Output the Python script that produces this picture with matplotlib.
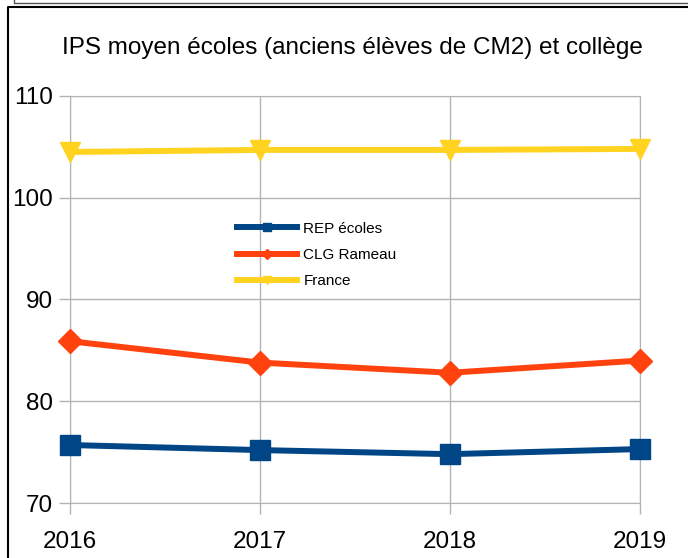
import matplotlib.pyplot as plt
from matplotlib.lines import Line2D

plt.rcParams["font.family"] = ["Liberation Sans", "DejaVu Sans"]

years = ["2016", "2017", "2018", "2019"]
rep_ecoles = [75.7, 75.2, 74.8, 75.3]
clg_rameau = [85.9, 83.8, 82.8, 84.0]
france = [104.5, 104.7, 104.7, 104.8]
y_ticks = [70, 80, 90, 100, 110]

W, H = 688, 558
fig = plt.figure(figsize=(W / 100, H / 100), dpi=100)
ax = fig.add_axes([70 / W, 1 - 503 / H, 570 / W, 407 / H])

x = range(len(years))
ax.plot(x, rep_ecoles, color="#004586", lw=4.3, marker="s", ms=14,
        label="REP écoles", zorder=3, clip_on=False)
ax.plot(x, clg_rameau, color="#ff420e", lw=4.3, marker="D", ms=12,
        label="CLG Rameau", zorder=3, clip_on=False)
ax.plot(x, france, color="#ffd320", lw=4.3, marker="v", ms=15,
        label="France", zorder=3, clip_on=False)

ax.set_xlim(0, 3)
ax.set_ylim(70, 110)
ax.set_xticks(list(x))
ax.set_xticklabels(years)
ax.set_yticks(y_ticks)
ax.grid(True, color="#b3b3b3", lw=1)
for s in ax.spines.values():
    s.set_color("#b3b3b3")
ax.tick_params(colors="#b3b3b3", labelcolor="black", labelsize=17.5,
               length=8, width=1)
ax.tick_params(axis="x", pad=12)
ax.tick_params(axis="y", pad=4)

fig.text(352 / W, 1 - 48 / H, "IPS moyen écoles (anciens élèves de CM2) et collège",
         ha="center", va="center", fontsize=17.5)

leg_handles = [
    Line2D([], [], color="#004586", lw=4.3, marker="s", ms=6),
    Line2D([], [], color="#ff420e", lw=4.3, marker="D", ms=5),
    Line2D([], [], color="#ffd320", lw=4.3, marker="v", ms=6),
]
fig.legend(leg_handles, ["REP écoles", "CLG Rameau", "France"],
           loc="center left", bbox_to_anchor=(237 / W, 1 - 255 / H),
           frameon=False, fontsize=11, handlelength=3.9, handletextpad=0.45,
           labelspacing=0.8, borderpad=0, borderaxespad=0)

# frames around the chart
fig.add_artist(Line2D([8 / W, 8 / W, 1], [0, 1 - 7 / H, 1 - 7 / H],
                      color="black", lw=1.5))
fig.add_artist(Line2D([14 / W, 14 / W, 1], [1, 1 - 3 / H, 1 - 3 / H],
                      color="#555555", lw=1))

fig.savefig("out.png", dpi=100)
